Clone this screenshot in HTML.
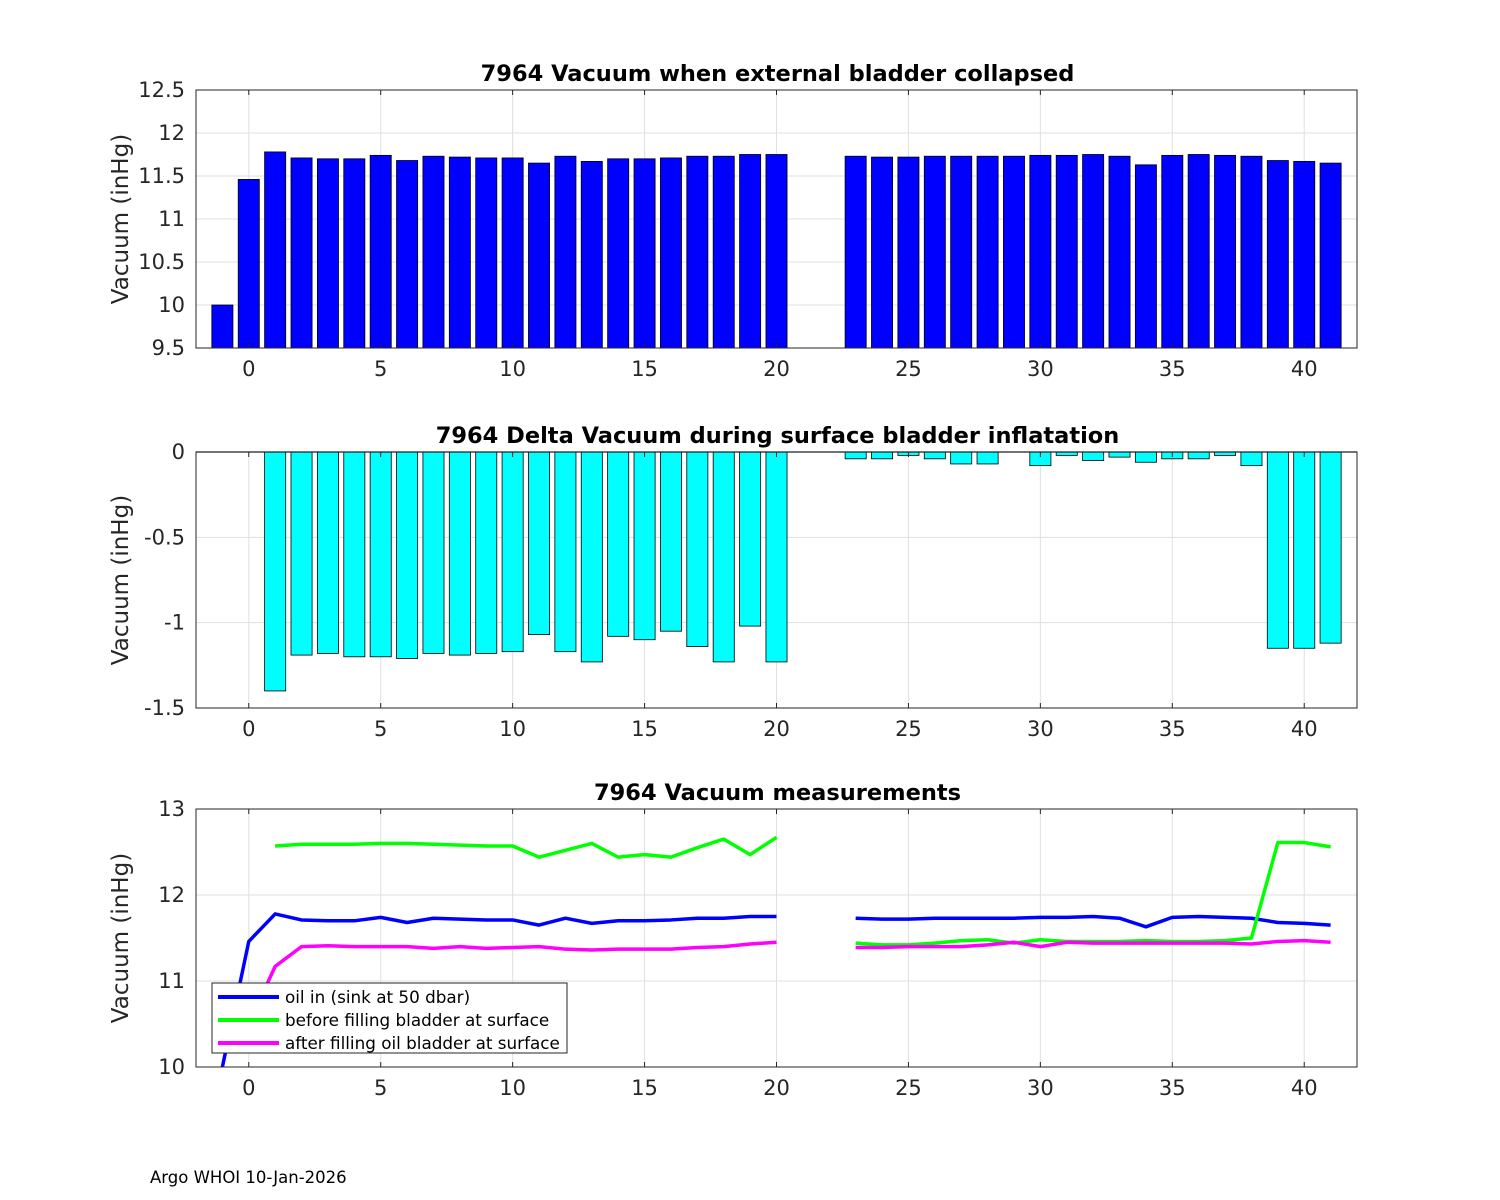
<!DOCTYPE html>
<html><head><meta charset="utf-8"><style>
html,body{margin:0;padding:0;background:#fff;width:1500px;height:1200px;overflow:hidden}
svg{font-family:"DejaVu Sans","Liberation Sans",sans-serif}
</style></head><body>
<svg id="fig" width="1500" height="1200" xmlns="http://www.w3.org/2000/svg">
<rect width="1500" height="1200" fill="#fff"/>
<text x="150" y="1183" font-size="16.5" fill="#000">Argo WHOI 10-Jan-2026</text>
</svg>
<script>
const cycles1 = [-1,0,1,2,3,4,5,6,7,8,9,10,11,12,13,14,15,16,17,18,19,20,23,24,25,26,27,28,29,30,31,32,33,34,35,36,37,38,39,40,41];
const vacuum1 = [10.0,11.46,11.78,11.71,11.70,11.70,11.74,11.68,11.73,11.72,11.71,11.71,11.65,11.73,11.67,11.70,11.70,11.71,11.73,11.73,11.75,11.75,11.73,11.72,11.72,11.73,11.73,11.73,11.73,11.74,11.74,11.75,11.73,11.63,11.74,11.75,11.74,11.73,11.68,11.67,11.65];
const cycles2 = [1,2,3,4,5,6,7,8,9,10,11,12,13,14,15,16,17,18,19,20,23,24,25,26,27,28,30,31,32,33,34,35,36,37,38,39,40,41];
const delta2 = [-1.40,-1.19,-1.18,-1.20,-1.20,-1.21,-1.18,-1.19,-1.18,-1.17,-1.07,-1.17,-1.23,-1.08,-1.10,-1.05,-1.14,-1.23,-1.02,-1.23,-0.04,-0.04,-0.02,-0.04,-0.07,-0.07,-0.08,-0.02,-0.05,-0.03,-0.06,-0.04,-0.04,-0.02,-0.08,-1.15,-1.15,-1.12];
const cycles3 = [1,2,3,4,5,6,7,8,9,10,11,12,13,14,15,16,17,18,19,20,23,24,25,26,27,28,29,30,31,32,33,34,35,36,37,38,39,40,41];
const before3 = [12.57,12.59,12.59,12.59,12.60,12.60,12.59,12.58,12.57,12.57,12.44,12.52,12.60,12.44,12.47,12.44,12.55,12.65,12.47,12.67,11.44,11.42,11.42,11.44,11.47,11.48,11.44,11.48,11.46,11.46,11.46,11.47,11.46,11.46,11.47,11.50,12.61,12.61,12.56];
const cyclesAfter = [0,1,2,3,4,5,6,7,8,9,10,11,12,13,14,15,16,17,18,19,20,23,24,25,26,27,28,29,30,31,32,33,34,35,36,37,38,39,40,41];
const after3 = [10.5,11.17,11.40,11.41,11.40,11.40,11.40,11.38,11.40,11.38,11.39,11.40,11.37,11.36,11.37,11.37,11.37,11.39,11.40,11.43,11.45,11.39,11.39,11.40,11.40,11.40,11.42,11.45,11.40,11.45,11.44,11.44,11.44,11.44,11.44,11.44,11.43,11.46,11.47,11.45];
const xTicks = [0,5,10,15,20,25,30,35,40];
const yTicks1 = [9.5,10,10.5,11,11.5,12,12.5];
const yTicks2 = [-1.5,-1,-0.5,0];
const yTicks3 = [10,11,12,13];

const NS="http://www.w3.org/2000/svg", svg=document.getElementById('fig');
function mk(tag,attrs,parent){const e=document.createElementNS(NS,tag);for(const k in attrs)e.setAttribute(k,attrs[k]);(parent||svg).appendChild(e);return e;}
const L=196,R=1357,X0=-2,X1=42;
const sx=v=>L+(v-X0)/(X1-X0)*(R-L);
const yTicks={p1:yTicks1,p2:yTicks2,p3:yTicks3};

function axes(id,top,bot,y0,y1,yt,title,fmt){
  const sy=v=>bot-(v-y0)/(y1-y0)*(bot-top);
  const g=mk('g',{});
  
  
  for(const t of xTicks){mk('line',{x1:sx(t),x2:sx(t),y1:top,y2:bot,stroke:'#dfdfdf','stroke-width':1},g);}
  for(const t of yTicks[id]){mk('line',{x1:L,x2:R,y1:sy(t),y2:sy(t),stroke:'#dfdfdf','stroke-width':1},g);}
  const tt=mk('text',{x:(L+R)/2+1,y:top-9,'text-anchor':'middle','font-size':'22.5','font-weight':'bold',fill:'#000'});
  tt.textContent=title;
  
  
  for(const t of xTicks){const e=mk('text',{x:sx(t),y:bot+28,'text-anchor':'middle','font-size':'21',fill:'#262626'});e.textContent=t;
    
    }
  for(const t of yt){const e=mk('text',{x:L-11,y:sy(t)+7,'text-anchor':'end','font-size':'21',fill:'#262626'});e.textContent=fmt(t);
    
    }
  const yl=mk('text',{x:0,y:0,'text-anchor':'middle','font-size':'23',fill:'#262626',transform:`translate(${L-68},${(top+bot)/2}) rotate(-90)`});
  yl.textContent='Vacuum (inHg)';
  
  
  return {sy,g,top,bot};
}
function frame(a){
  const f=mk('rect',{x:L,y:a.top,width:R-L,height:a.bot-a.top,fill:'none',stroke:'#262626','stroke-width':1});
  
  
  for(const t of xTicks){mk('line',{x1:sx(t),x2:sx(t),y1:a.bot,y2:a.bot-5,stroke:'#262626'});mk('line',{x1:sx(t),x2:sx(t),y1:a.top,y2:a.top+5,stroke:'#262626'});}
}
const fmt=t=>String(t);
const bw=(sx(1)-sx(0))*0.8;

const a1=axes('p1',90,348,9.5,12.5,yTicks1,'7964 Vacuum when external bladder collapsed',fmt);
cycles1.forEach((c,i)=>{const y=a1.sy(vacuum1[i]);const b=mk('rect',{x:sx(c)-bw/2,y:y,width:bw,height:a1.bot-y,fill:'#0000ff',stroke:'#000','stroke-width':0.8});
  
  });
frame(a1);

const a2=axes('p2',452,708,-1.5,0,yTicks2,'7964 Delta Vacuum during surface bladder inflatation',fmt);
cycles2.forEach((c,i)=>{const y0=a2.sy(0),y=a2.sy(delta2[i]);const b=mk('rect',{x:sx(c)-bw/2,y:y0,width:bw,height:y-y0,fill:'#00ffff',stroke:'#000','stroke-width':0.8});
  
  });
mk('line',{x1:L,x2:R,y1:a2.sy(0),y2:a2.sy(0),stroke:'#000','stroke-width':1.2});
frame(a2);

const a3=axes('p3',809,1067,10,13,yTicks3,'7964 Vacuum measurements',fmt);
const cp=mk('clipPath',{id:'clip3'});
mk('rect',{x:L,y:a3.top,width:R-L,height:a3.bot-a3.top},cp);
function series(xs,ys,color,name){
  let segs=[],cur=[];
  xs.forEach((x,i)=>{if(i>0&&x-xs[i-1]>1){segs.push(cur);cur=[];}cur.push(sx(x)+','+a3.sy(ys[i]));});
  segs.push(cur);
  for(const s of segs){const p=mk('polyline',{points:s.join(' '),fill:'none',stroke:color,'stroke-width':3.5,'clip-path':'url(#clip3)','stroke-linejoin':'round'});
    
    }
}
series(cycles1,vacuum1,'#0000ff','oil-in-line');
series(cycles3,before3,'#00ff00','before-filling-line');
series(cyclesAfter,after3,'#ff00ff','after-filling-line');
frame(a3);

const lg=mk('g',{});


mk('rect',{x:212,y:983,width:355,height:70,fill:'#fff',stroke:'#262626','stroke-width':1},lg);
[['oil in (sink at 50 dbar)','#0000ff'],['before filling bladder at surface','#00ff00'],['after filling oil bladder at surface','#ff00ff']].forEach((e,i)=>{
  const y=997+i*23;
  const ent=mk('g',{},lg);
  
  
  mk('line',{x1:218,x2:279,y1:y,y2:y,stroke:e[1],'stroke-width':4},ent);
  const t=mk('text',{x:285,y:y+6,'font-size':'16.8',fill:'#000'},ent);t.textContent=e[0];
});
</script>
</body></html>
